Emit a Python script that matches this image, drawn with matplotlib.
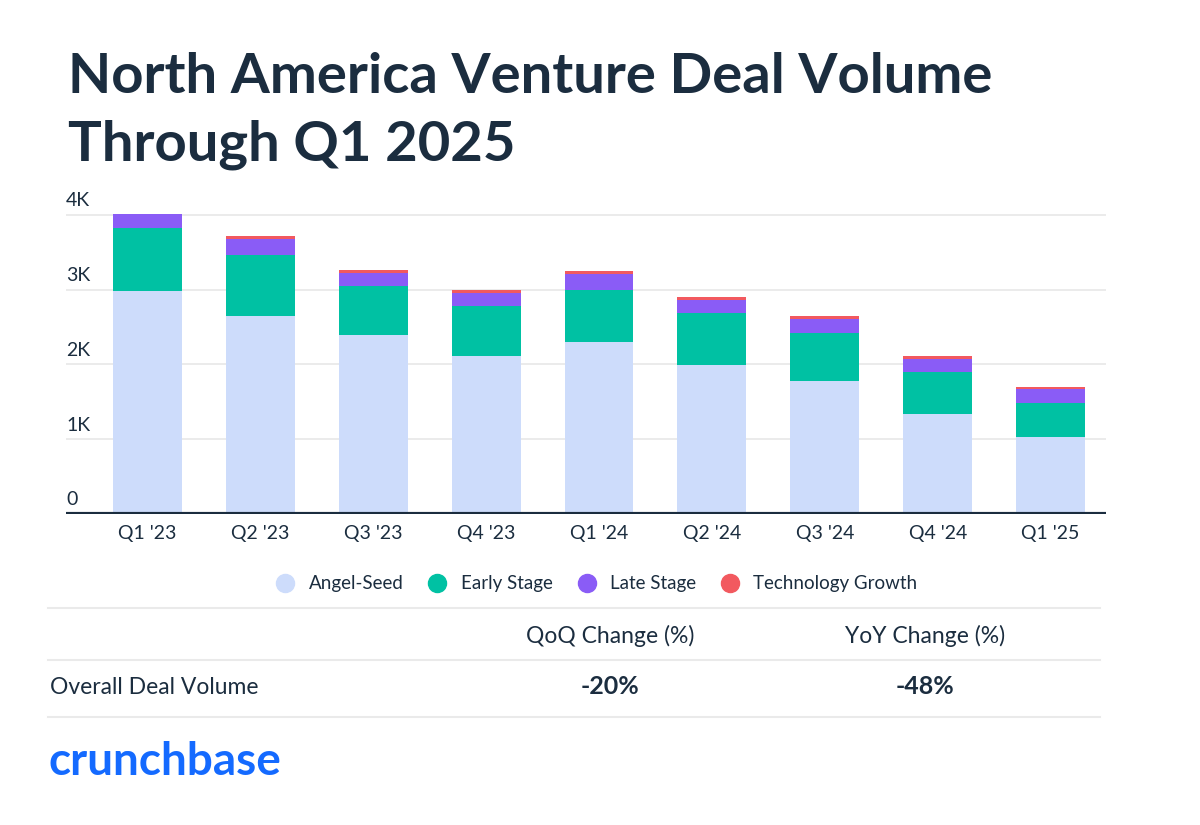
import matplotlib
matplotlib.use("Agg")
import matplotlib.pyplot as plt
from matplotlib.lines import Line2D
import numpy as np

plt.rcParams['font.family'] = ['Lato', 'DejaVu Sans']

quarters = ["Q1 '23", "Q2 '23", "Q3 '23", "Q4 '23", "Q1 '24",
            "Q2 '24", "Q3 '24", "Q4 '24", "Q1 '25"]
angel_seed = [2980, 2650, 2400, 2110, 2300, 1995, 1780, 1335, 1025]
early_stage = [840, 810, 655, 677, 695, 690, 638, 562, 465]
late_stage = [187, 214, 170, 165, 210, 180, 196, 174, 178]
tech_growth = [5, 40, 45, 50, 45, 35, 36, 40, 31]

series_names = ["Angel-Seed", "Early Stage", "Late Stage", "Technology Growth"]
colors = ["#cddcfb", "#00c1a3", "#8a5cf6", "#f2595f"]

y_ticks = [0, 1000, 2000, 3000, 4000]
y_tick_labels = ["0", "1K", "2K", "3K", "4K"]

title_lines = ["North America Venture Deal Volume", "Through Q1 2025"]
table_headers = ["QoQ Change (%)", "YoY Change (%)"]
row_label = "Overall Deal Volume"
row_values = ["-20%", "-48%"]

navy = "#1b2d3f"

fig = plt.figure(figsize=(12, 8.25), dpi=100)
ax = fig.add_axes([66 / 1200, 1 - 514 / 825, 1040 / 1200, 302 / 825])

x = np.arange(len(quarters))
bottom = np.zeros(len(quarters))
for vals, c in zip([angel_seed, early_stage, late_stage, tech_growth], colors):
    ax.bar(x, vals, width=0.61, bottom=bottom, color=c, linewidth=0, zorder=2)
    bottom += np.array(vals)

ax.set_xlim(-0.72, 8.49)
ax.set_ylim(0, 4040)
for t in y_ticks[1:]:
    ax.axhline(t, color="#e8e8e8", lw=1.2, zorder=1)
ax.axhline(0, color=navy, lw=3, zorder=3)
for t, lab in zip(y_ticks, y_tick_labels):
    ax.annotate(lab, xy=(0, t), xycoords=("axes fraction", "data"),
                xytext=(0, 4), textcoords="offset points",
                ha="left", va="bottom", fontsize=14, color=navy)
for s in ax.spines.values():
    s.set_visible(False)
ax.set_yticks([])
ax.set_xticks(x)
ax.set_xticklabels(quarters, fontsize=14, color=navy)
ax.tick_params(axis="x", length=0, pad=8)

# title, one text per line so the baselines sit where the reference has them
for line, base in zip(title_lines, [93, 161]):
    fig.text(68 / 1200, 1 - base / 825, line, ha="left", va="baseline",
             fontsize=40.5, fontweight="bold", color=navy)

# legend
handles = [Line2D([], [], marker="o", ls="", markersize=13, color=c) for c in colors]
fig.legend(handles, series_names, loc="center", bbox_to_anchor=(592 / 1200, 1 - 584 / 825),
           ncol=4, frameon=False, fontsize=13.5, handletextpad=0.25, columnspacing=0.8,
           labelcolor=navy)

# table
for yy in [608, 660, 717]:
    fig.add_artist(Line2D([48 / 1200, 1100 / 1200], [1 - yy / 825] * 2,
                          color="#eaeaea", lw=1.5))
col_x = [610 / 1200, 925 / 1200]
for cx, h, v in zip(col_x, table_headers, row_values):
    fig.text(cx, 1 - 636 / 825, h, ha="center", va="center", fontsize=16.5, color=navy)
    fig.text(cx, 1 - 687 / 825, v, ha="center", va="center", fontsize=18,
             fontweight="bold", color=navy)
fig.text(50 / 1200, 1 - 687 / 825, row_label, ha="left", va="center", fontsize=16.5, color=navy)

fig.text(48 / 1200, 1 - 762 / 825, "crunchbase", ha="left", va="center",
         fontsize=33, fontweight="bold", color="#146aff")

fig.savefig("out.png", dpi=100, facecolor="white")
